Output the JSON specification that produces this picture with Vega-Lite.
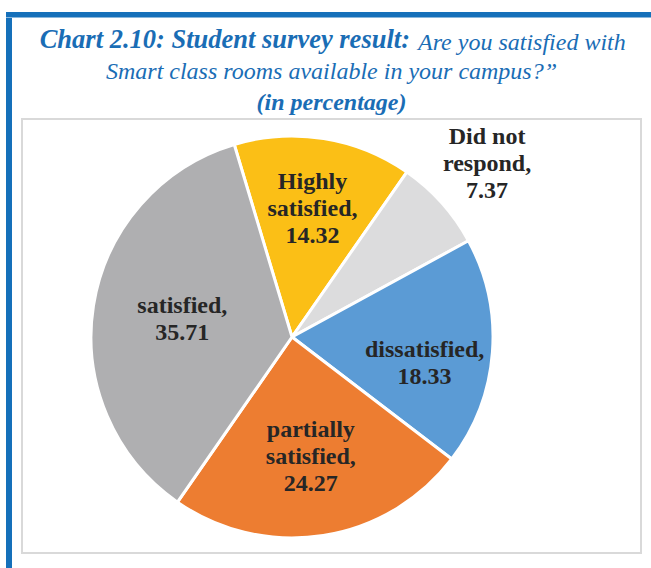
{
  "$schema": "https://vega.github.io/schema/vega-lite/v6.json",
  "padding": {"left": 6, "top": 12, "right": 0, "bottom": 0},
  "background": "white",
  "bounds": "flush",
  "config": {
    "view": {"stroke": null},
    "concat": {"spacing": 0},
    "title": {"font": "Liberation Serif", "fontSize": 24, "color": "#1A6DB5", "fontStyle": "italic"}
  },
  "spacing": 0,
  "vconcat": [
    {
      "width": 645, "height": 5.5,
      "view": {"fill": "#1570BA", "stroke": null},
      "data": {"values": [{}]},
      "mark": {"type": "point", "opacity": 0}
    },
    {
      "spacing": 9,
      "hconcat": [
        {
          "width": 6, "height": 550.5,
          "view": {"fill": "#1570BA", "stroke": null},
          "data": {"values": [{}]},
          "mark": {"type": "point", "opacity": 0}
        },
        {
          "spacing": 0,
          "vconcat": [
            {
              "spacing": 5,
              "hconcat": [
                {
                  "width": 388, "height": 40.5,
                  "view": {"stroke": null},
                  "title": {"text": "Chart 2.10: Student survey result:", "anchor": "end", "frame": "group", "fontWeight": "bold", "fontSize": 26.5, "offset": -56, "baseline": "alphabetic"},
                  "data": {"values": [{}]},
                  "mark": {"type": "point", "opacity": 0}
                },
                {
                  "width": 1, "height": 40.5,
                  "view": {"stroke": null},
                  "title": {"text": "Are you satisfied with", "anchor": "start", "frame": "group", "fontWeight": "normal", "offset": -56, "baseline": "alphabetic"},
                  "data": {"values": [{}]},
                  "mark": {"type": "point", "opacity": 0}
                }
              ]
            },
            {
              "width": 619, "height": 434,
              "view": {"stroke": "#D9D9D9", "strokeWidth": 2},
              "title": {
                "text": "Smart class rooms available in your campus?\u201d",
                "subtitle": "(in percentage)",
                "fontWeight": "normal",
                "subtitleFont": "Liberation Serif", "subtitleFontSize": 24, "subtitleFontStyle": "italic", "subtitleFontWeight": "bold", "subtitleColor": "#1A6DB5",
                "subtitlePadding": 7,
                "anchor": "middle", "frame": "group", "offset": 4
              },
              "data": {
                "values": [
                  {"category": "Highly satisfied", "label": "Highly\nsatisfied", "value": 14.32, "order": 1},
                  {"category": "Did not respond", "label": "Did not\nrespond", "value": 7.37, "order": 2},
                  {"category": "dissatisfied", "label": "dissatisfied", "value": 18.33, "order": 3},
                  {"category": "partially satisfied", "label": "partially\nsatisfied", "value": 24.27, "order": 4},
                  {"category": "satisfied", "label": "satisfied", "value": 35.71, "order": 5}
                ]
              },
              "transform": [{"calculate": "datum.label + ',\\n' + format(datum.value, '.2f')", "as": "text"}],
              "encoding": {
                "theta": {"field": "value", "type": "quantitative", "stack": true, "scale": {"range": [-0.2915, 5.9917]}},
                "order": {"field": "order", "type": "quantitative"}
              },
              "layer": [
                {
                  "mark": {"type": "arc", "x": 270, "y": 218, "outerRadius": 201, "stroke": "white", "strokeWidth": 3},
                  "encoding": {
                    "color": {
                      "field": "category", "type": "nominal", "legend": null,
                      "scale": {
                        "domain": ["Highly satisfied", "Did not respond", "dissatisfied", "partially satisfied", "satisfied"],
                        "range": ["#FBBF16", "#DCDCDD", "#5B9BD5", "#ED7D31", "#AFAFB1"]
                      }
                    }
                  }
                },
                {
                  "mark": {
                    "type": "text", "x": 270, "y": 218,
                    "font": "Liberation Serif", "fontSize": 24, "fontWeight": "bold", "fill": "#262626",
                    "lineBreak": "\n", "lineHeight": 27, "align": "center", "baseline": "middle",
                    "radius": {"expr": "datum.category === 'Did not respond' ? 262 : datum.category === 'Highly satisfied' ? 130 : datum.category === 'dissatisfied' ? 133 : datum.category === 'partially satisfied' ? 121 : 111"},
                    "dy": {"expr": "datum.category === 'dissatisfied' ? 2.5 : datum.category === 'Did not respond' ? -25 : indexof(datum.label, '\\n') >= 0 ? -27 : -13.5"}
                  },
                  "encoding": {
                    "text": {"field": "text", "type": "nominal"}
                  }
                }
              ]
            }
          ]
        }
      ]
    }
  ]
}
